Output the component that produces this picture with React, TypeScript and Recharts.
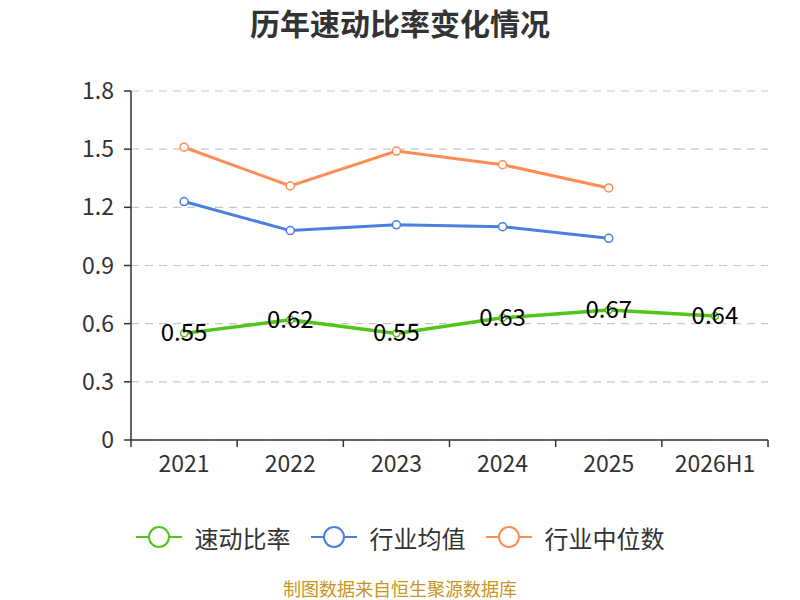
import React from 'react';
import {
  CartesianGrid,
  LabelList,
  Line,
  LineChart,
  XAxis,
  YAxis,
} from 'recharts';

const categories = ['2021', '2022', '2023', '2024', '2025', '2026H1'];
const quickRatio = [0.55, 0.62, 0.55, 0.63, 0.67, 0.64];
const industryAvg = [1.23, 1.08, 1.11, 1.1, 1.04, null];
const industryMedian = [1.51, 1.31, 1.49, 1.42, 1.3, null];
const yTicks = [0, 0.3, 0.6, 0.9, 1.2, 1.5, 1.8];

const GREEN = '#52c41a';
const BLUE = '#4a7fe0';
const ORANGE = '#ff8c55';
const FONT = '"Noto Sans CJK SC", "Noto Sans", sans-serif';

const CHART_W = 800;
const MARGIN = { top: 91, right: 32, left: 81, bottom: 120 };
const Y_AXIS_W = 50;
const BAND = (CHART_W - MARGIN.left - Y_AXIS_W - MARGIN.right) / categories.length;

const data = categories.map((name, i) => ({
  x: i + 0.5,
  name,
  quick: quickRatio[i],
  avg: industryAvg[i],
  median: industryMedian[i],
}));

const XTick = (props: any) => {
  const { x, y, index } = props;
  if (index >= categories.length) return null;
  return (
    <text
      x={x + BAND / 2}
      y={y + 23}
      textAnchor="middle"
      fill="#333"
      fontSize={23}
      fontFamily={FONT}
    >
      {categories[index]}
    </text>
  );
};

const ValueLabel = (props: any) => {
  const { x, y, value } = props;
  return (
    <text
      x={x}
      y={y + 8}
      textAnchor="middle"
      fill="#000"
      fontSize={24}
      fontFamily={FONT}
    >
      {value}
    </text>
  );
};

const legendItems = [
  { label: '速动比率', color: GREEN },
  { label: '行业均值', color: BLUE },
  { label: '行业中位数', color: ORANGE },
];

const LegendIcon = ({ color }: { color: string }) => (
  <svg width={46} height={24} style={{ marginRight: 13 }}>
    <line x1={0} y1={12} x2={46} y2={12} stroke={color} strokeWidth={2} />
    <circle cx={23} cy={12} r={10} fill="#fff" stroke={color} strokeWidth={2} />
  </svg>
);

export default function App() {
  return (
    <div
      style={{
        position: 'absolute',
        left: 0,
        top: 0,
        width: 800,
        height: 600,
        background: '#fff',
        fontFamily: FONT,
      }}
    >
      <div
        style={{
          position: 'absolute',
          top: 2,
          width: 800,
          textAlign: 'center',
          fontSize: 30,
          lineHeight: '40px',
          fontWeight: 'bold',
          color: '#333',
        }}
      >
        历年速动比率变化情况
      </div>
      <LineChart width={800} height={600} data={data} margin={MARGIN}>
        <CartesianGrid
          vertical={false}
          stroke="#c8c8c8"
          strokeDasharray="8 6"
          strokeWidth={1.2}
        />
        <XAxis
          dataKey="x"
          type="number"
          domain={[0, 6]}
          ticks={[0, 1, 2, 3, 4, 5, 6]}
          interval={0}
          axisLine={{ stroke: '#333', strokeWidth: 1.5 }}
          tickLine={{ stroke: '#333', strokeWidth: 1.5 }}
          tickSize={7}
          tick={<XTick />}
          height={40}
        />
        <YAxis
          domain={[0, 1.8]}
          ticks={yTicks}
          interval={0}
          width={Y_AXIS_W}
          axisLine={{ stroke: '#333', strokeWidth: 1.5 }}
          tickLine={{ stroke: '#333', strokeWidth: 1.5 }}
          tickSize={7}
          tickMargin={10}
          tick={{ fill: '#333', fontSize: 23, fontFamily: FONT }}
          tickFormatter={(v) => String(v)}
        />
        <Line
          dataKey="median"
          stroke={ORANGE}
          strokeWidth={3}
          dot={{ r: 4, fill: '#fff', stroke: ORANGE, strokeWidth: 1.5 }}
          isAnimationActive={false}
        />
        <Line
          dataKey="avg"
          stroke={BLUE}
          strokeWidth={3}
          dot={{ r: 4, fill: '#fff', stroke: BLUE, strokeWidth: 1.5 }}
          isAnimationActive={false}
        />
        <Line
          dataKey="quick"
          stroke={GREEN}
          strokeWidth={3.5}
          dot={{ r: 3.5, fill: '#fff', stroke: GREEN, strokeWidth: 1.5 }}
          isAnimationActive={false}
        >
          <LabelList dataKey="quick" content={<ValueLabel />} />
        </Line>
      </LineChart>
      <div
        style={{
          position: 'absolute',
          top: 520,
          width: 800,
          height: 34,
          display: 'flex',
          justifyContent: 'center',
          alignItems: 'center',
          fontSize: 24,
          color: '#333',
        }}
      >
        {legendItems.map((it) => (
          <div
            key={it.label}
            style={{ display: 'flex', alignItems: 'center', margin: '0 10px' }}
          >
            <LegendIcon color={it.color} />
            <span>{it.label}</span>
          </div>
        ))}
      </div>
      <div
        style={{
          position: 'absolute',
          top: 577,
          width: 800,
          textAlign: 'center',
          fontSize: 18,
          lineHeight: '22px',
          color: '#c8961e',
        }}
      >
        制图数据来自恒生聚源数据库
      </div>
    </div>
  );
}
